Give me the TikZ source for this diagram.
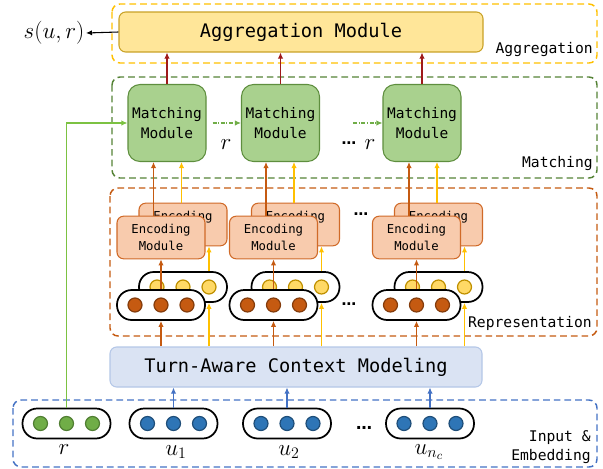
\documentclass[tikz,border=0pt]{standalone}
\usepackage{fontspec}
\setmonofont{DejaVu Sans Mono}
\newfontfamily\dotfont{DejaVu Sans}
\usetikzlibrary{arrows.meta,calc}
\definecolor{aggfill}{HTML}{FFE699}
\definecolor{aggborder}{HTML}{C9A227}
\definecolor{aggdash}{HTML}{FFC000}
\definecolor{matchfill}{HTML}{A9D18E}
\definecolor{matchborder}{HTML}{5E8E3E}
\definecolor{matchdash}{HTML}{548235}
\definecolor{encfill}{HTML}{F8CBAD}
\definecolor{encborder}{HTML}{D06A28}
\definecolor{repdash}{HTML}{C55A11}
\definecolor{tafill}{HTML}{DAE3F3}
\definecolor{taborder}{HTML}{B4C7E7}
\definecolor{inpdash}{HTML}{4472C4}
\definecolor{orfill}{HTML}{C55A11}
\definecolor{orborder}{HTML}{843C0C}
\definecolor{yefill}{HTML}{FFD966}
\definecolor{yeborder}{HTML}{BF9000}
\definecolor{grfill}{HTML}{70AD47}
\definecolor{grborder}{HTML}{507E32}
\definecolor{blfill}{HTML}{2E75B6}
\definecolor{blborder}{HTML}{1F4E79}
\definecolor{redarr}{HTML}{9E1A1A}
\definecolor{orarr}{HTML}{C55A11}
\definecolor{yearr}{HTML}{FFC000}
\definecolor{blarr}{HTML}{4472C4}
\definecolor{grline}{HTML}{7CC242}
\definecolor{grdd}{HTML}{70AD47}
\begin{document}
\begin{tikzpicture}[x=0.75pt,y=-0.75pt,
  region/.style={dashed, dash pattern=on 5pt off 3pt, line width=1.1pt, rounded corners=6pt},
  agg/.style={draw=aggborder, fill=aggfill, rounded corners=5pt, line width=0.8pt,
    minimum width=273pt, minimum height=30pt, font=\fontsize{14}{16}\selectfont\ttfamily},
  tabox/.style={draw=taborder, fill=tafill, rounded corners=5pt, line width=0.8pt,
    minimum width=279pt, minimum height=30pt, font=\fontsize{14}{16}\selectfont\ttfamily},
  matchbox/.style={draw=matchborder, fill=matchfill, rounded corners=9pt, line width=0.8pt,
    minimum width=58.5pt, minimum height=57.75pt, align=center, inner sep=0pt,
    font=\fontsize{10.9}{15}\selectfont\ttfamily},
  encbox/.style={draw=encborder, fill=encfill, rounded corners=5pt, line width=0.8pt,
    minimum width=66pt, minimum height=32pt, align=center, inner sep=0pt,
    font=\fontsize{9.2}{12.75}\selectfont\ttfamily},
  capsule/.style={draw=black, fill=white, line width=1.3pt, minimum width=66pt,
    minimum height=22.5pt, rounded corners=11pt, inner sep=0pt},
  dot/.style={circle, inner sep=0pt, minimum size=10.5pt, line width=0.9pt},
  odot/.style={dot, fill=orfill, draw=orborder},
  ydot/.style={dot, fill=yefill, draw=yeborder},
  gdot/.style={dot, fill=grfill, draw=grborder},
  bdot/.style={dot, fill=blfill, draw=blborder},
  tip/.style={-{Latex[length=4.5pt,width=4pt]}},
  redline/.style={tip, draw=redarr, line width=0.8pt},
  orline/.style={tip, draw=orarr, line width=0.8pt},
  yeline/.style={tip, draw=yearr, line width=0.8pt},
  blline/.style={tip, draw=blarr, line width=0.8pt},
  grnline/.style={tip, draw=grline, line width=0.8pt},
  ddline/.style={tip, draw=grdd, line width=0.8pt, dash pattern=on 3pt off 1.2pt on 0.8pt off 1.2pt},
  lbl/.style={anchor=east, font=\fontsize{11}{14.25}\selectfont\ttfamily, inner sep=0pt, align=right},
  mlbl/.style={inner sep=0pt, font=\fontsize{18}{20}\selectfont},
  ellip/.style={inner sep=0pt, font=\fontsize{11}{13}\selectfont\dotfont\bfseries}
]
\useasboundingbox (0,0) rectangle (603,468);

% regions
\draw[region, draw=aggdash] (112,4) rectangle (597,63);
\draw[region, draw=matchdash] (112,77) rectangle (597,178);
\draw[region, draw=repdash] (110,188) rectangle (597,336);
\draw[region, draw=inpdash] (13,400) rectangle (597,467);

\node[lbl] (lagg) at (593,50) {Aggregation};
\node[lbl] (lmat) at (593,163) {Matching};
\node[lbl] (lrep) at (592,323) {Representation};
\node[lbl] (linp) at (591,447) {Input \&\\Embedding};

% aggregation
\node[agg] (agg) at (301,32) {Aggregation Module};
\node[anchor=east, inner sep=1pt, font=\fontsize{18}{20}\selectfont] (s) at (86,33) {$s(u,r)$};

% matching modules
\node[matchbox] (m1) at (167,123) {Matching\\Module};
\node[matchbox] (m2) at (280.5,123) {Matching\\Module};
\node[matchbox] (m3) at (422,123) {Matching\\Module};
\node[mlbl] (rm1) at (226,145) {$r$};
\node[ellip] (dm) at (349,143) {…};
\node[mlbl] (rm2) at (370,145) {$r$};

% encoding modules (back, front)
\node[encbox] (eb1) at (183,224.5) {Encoding\\Module};
\node[encbox] (ef1) at (161,237.5) {Encoding\\Module};
\node[encbox] (eb2) at (295.5,224.5) {Encoding\\Module};
\node[encbox] (ef2) at (273.5,237.5) {Encoding\\Module};
\node[encbox] (eb3) at (438.5,224.5) {Encoding\\Module};
\node[encbox] (ef3) at (416.5,237.5) {Encoding\\Module};
\node[ellip] (de) at (361,214) {…};

% representation capsules
\foreach \g/\xf/\xb in {1/161/183, 2/273.5/295.5, 3/416.5/438.5}{
  \node[capsule] (cb\g) at (\xb,287) {};
  \foreach \k/\dx in {1/-26,2/0,3/26}
    \node[ydot] (cb\g d\k) at ($(cb\g)+(\dx,0)$) {};
  \node[capsule] (cf\g) at (\xf,305) {};
  \foreach \k/\dx in {1/-26,2/0,3/26}
    \node[odot] (cf\g d\k) at ($(cf\g)+(\dx,0)$) {};
}
\node[ellip] (dc) at (349,304) {…};

% turn-aware
\node[tabox] (ta) at (296,367) {Turn-Aware Context Modeling};

% input capsules
\node[capsule] (rc) at (66.5,423.5) {};
\node[capsule] (u1) at (173.5,423.5) {};
\node[capsule] (u2) at (287,423.5) {};
\node[capsule] (un) at (430,423.5) {};
\foreach \k/\dx in {1/-26,2/0,3/26}{
  \node[gdot] (rcd\k) at ($(rc)+(\dx,0)$) {};
  \node[bdot] (u1d\k) at ($(u1)+(\dx,0)$) {};
  \node[bdot] (u2d\k) at ($(u2)+(\dx,0)$) {};
  \node[bdot] (und\k) at ($(un)+(\dx,0)$) {};
}
\node[ellip, font=\fontsize{12}{14}\selectfont\dotfont\bfseries] (di) at (364,428) {…};
\node[mlbl] (lr) at (64,450) {$r$};
\node[mlbl] (lu1) at (176,452) {$u_1$};
\node[mlbl] (lu2) at (289,452) {$u_2$};
\node[mlbl] (lun) at (429,452) {$u_{n_c}$};

% connectors: input -> turn-aware
\foreach \u in {u1,u2,un}
  \draw[blline] (\u.north) -- (\u.north |- ta.south);

% turn-aware -> capsules, capsules -> encoders, encoders -> matching
\foreach \g/\m in {1/m1, 2/m2, 3/m3}{
  \coordinate (yc\g) at ($(cb\g.south)+(26,0)$);
  \coordinate (yt\g) at ($(cb\g.north)+(26,0)$);
  \coordinate (ye\g) at ($(eb\g.north)+(-1.5,0)$);
  \coordinate (oe\g) at ($(ef\g.north)+(-7.5,0)$);
  \draw[orline] (cf\g.south |- ta.north) -- (cf\g.south);
  \draw[yeline] (yc\g |- ta.north) -- (yc\g);
  \draw[orline] (cf\g.north) -- (ef\g.south);
  \draw[yeline] (yt\g) -- (yt\g |- eb\g.south);
  \draw[orline] (oe\g) -- (oe\g |- \m.south);
  \draw[yeline] (ye\g) -- (ye\g |- \m.south);
  \draw[redline] (\m.north) -- (\m.north |- agg.south);
}

% r -> first matching module
\draw[grnline] (rc.north) |- (m1.west);
\coordinate (dd1) at ($(m1.east)+(6,0)$);
\coordinate (dd2) at (353,123);
\draw[ddline] (dd1) -- (m2.west);
\draw[ddline] (dd2) -- (m3.west);

% output
\draw[tip, line width=0.8pt] (agg.west) -- (s.east);
\end{tikzpicture}
\end{document}
